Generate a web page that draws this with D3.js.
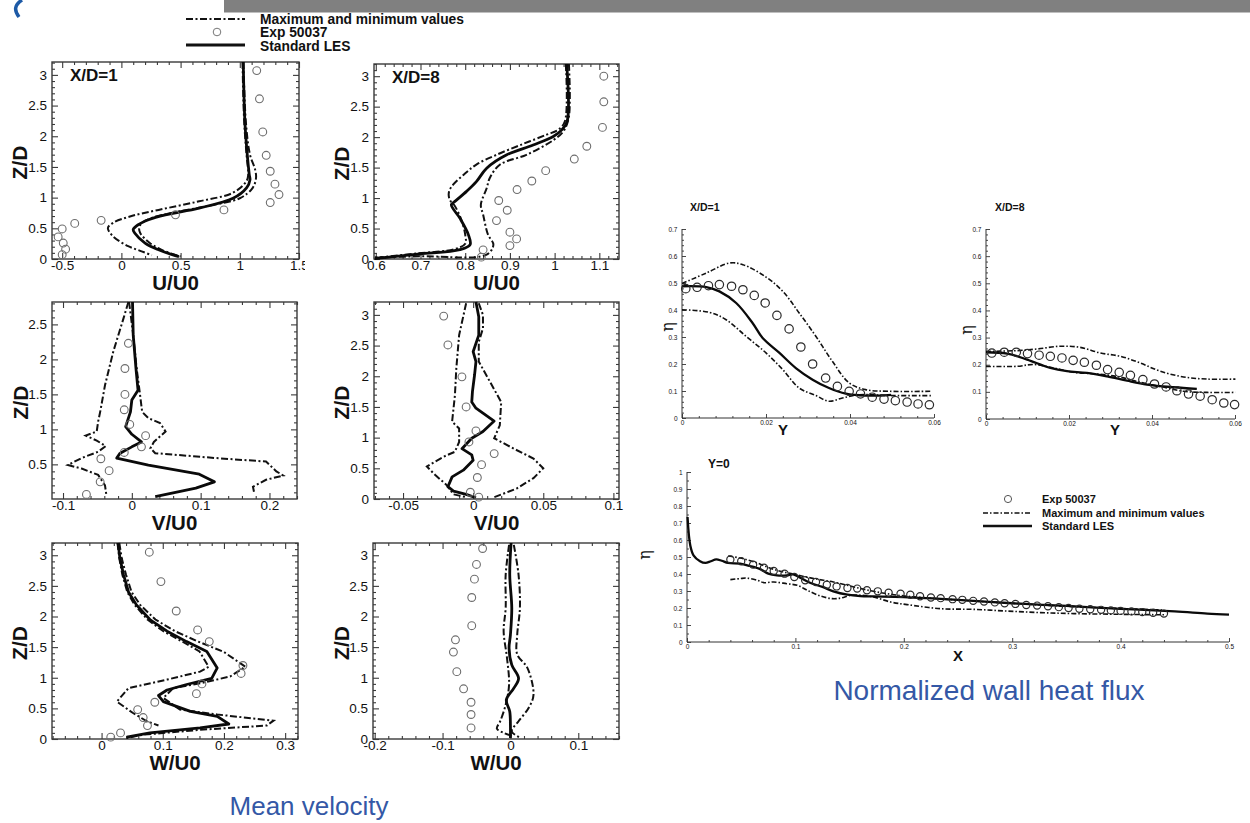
<!DOCTYPE html>
<html>
<head>
<meta charset="utf-8">
<script src="https://cdn.jsdelivr.net/npm/d3@7"></script>
<style>
  body { margin: 0; background: #fff; }
  svg { display: block; }
</style>
</head>
<body>
<svg id="fig" width="1250" height="823"></svg>
<script>
// ---------------- Mean velocity profiles: [value, Z/D] ----------------
const u1Exp = [[1.143,3.07],[1.166,2.61],[1.194,2.07],[1.223,1.69],[1.257,1.43],[1.297,1.22],[1.331,1.05],[1.257,0.92],[0.866,0.80],[0.457,0.72],[-0.171,0.63],[-0.394,0.58],[-0.500,0.49],[-0.534,0.36],[-0.491,0.26],[-0.471,0.16],[-0.500,0.07]];
const u1Les = [[1.029,3.21],[1.043,2.24],[1.063,1.70],[1.080,1.375],[1.086,1.29],[1.057,1.16],[0.943,0.99],[0.657,0.83],[0.371,0.72],[0.229,0.64],[0.143,0.56],[0.100,0.48],[0.114,0.42],[0.200,0.26],[0.314,0.15],[0.429,0.07],[0.486,0.04]];
const u1Max = [[1.031,3.21],[1.051,2.24],[1.086,1.70],[1.129,1.46],[1.137,1.32],[1.109,1.16],[1.000,0.99],[0.714,0.86],[0.429,0.75],[0.257,0.67],[0.170,0.58],[0.150,0.50],[0.160,0.42],[0.240,0.26],[0.340,0.15],[0.450,0.07],[0.500,0.04]];
const u1Min = [[1.023,3.21],[1.037,2.24],[1.057,1.70],[1.071,1.375],[1.057,1.27],[0.943,1.08],[0.657,0.94],[0.314,0.80],[0.086,0.70],[-0.071,0.59],[-0.114,0.505],[-0.071,0.37],[0.057,0.21],[0.171,0.125],[0.257,0.06]];

const u8Exp = [[1.110,3.00],[1.110,2.58],[1.107,2.16],[1.072,1.85],[1.044,1.64],[0.980,1.45],[0.949,1.28],[0.916,1.14],[0.875,0.96],[0.894,0.80],[0.870,0.63],[0.900,0.44],[0.915,0.33],[0.900,0.22],[0.840,0.15],[0.836,0.03]];
const u8Les = [[1.027,3.20],[1.028,2.26],[1.016,2.12],[0.997,2.01],[0.952,1.87],[0.893,1.71],[0.848,1.49],[0.825,1.27],[0.803,1.11],[0.777,0.945],[0.769,0.89],[0.788,0.67],[0.807,0.40],[0.811,0.235],[0.788,0.153],[0.699,0.082],[0.624,0.027],[0.598,0.005]];
const u8Max = [[1.032,3.20],[1.034,2.64],[1.031,2.30],[1.020,2.10],[0.997,1.95],[0.937,1.71],[0.878,1.55],[0.855,1.33],[0.848,1.16],[0.835,0.89],[0.840,0.73],[0.851,0.40],[0.863,0.235],[0.848,0.071],[0.699,0.044],[0.598,0.027]];
const u8Min = [[1.025,3.20],[1.023,2.26],[1.008,2.12],[0.982,2.04],[0.930,1.89],[0.870,1.71],[0.825,1.55],[0.796,1.38],[0.773,1.22],[0.764,1.11],[0.764,1.00],[0.769,0.93],[0.775,0.89],[0.790,0.67],[0.800,0.40],[0.800,0.25],[0.775,0.16],[0.690,0.09],[0.620,0.035],[0.596,0.012]];

const v1Exp = [[-0.005,2.23],[-0.010,1.87],[-0.010,1.50],[-0.011,1.28],[-0.003,1.07],[0.020,0.91],[0.014,0.75],[-0.011,0.67],[-0.045,0.58],[-0.033,0.41],[-0.046,0.25],[-0.066,0.07]];
const v1Les = [[0.001,2.82],[0.002,2.35],[0.006,1.87],[0.009,1.56],[0.000,1.42],[-0.002,1.25],[-0.009,1.04],[0.000,0.93],[0.014,0.82],[0.000,0.75],[-0.017,0.66],[-0.022,0.59],[0.024,0.49],[0.098,0.36],[0.120,0.25],[0.093,0.16],[0.034,0.04]];
const v1Max = [[-0.004,2.82],[0.002,2.35],[0.007,1.87],[0.012,1.49],[0.015,1.25],[0.024,1.16],[0.041,1.09],[0.049,0.97],[0.032,0.82],[0.027,0.73],[0.034,0.66],[0.122,0.59],[0.195,0.54],[0.210,0.40],[0.220,0.34],[0.195,0.28],[0.176,0.18],[0.178,0.085]];
const v1Min = [[-0.005,2.82],[-0.012,2.59],[-0.027,2.11],[-0.039,1.63],[-0.046,1.25],[-0.049,1.11],[-0.051,0.97],[-0.067,0.91],[-0.051,0.84],[-0.038,0.76],[-0.049,0.68],[-0.073,0.59],[-0.093,0.49],[-0.073,0.44],[-0.049,0.35],[-0.039,0.20],[-0.037,0.06]];

const v8Exp = [[-0.021,2.98],[-0.018,2.51],[-0.008,1.99],[-0.005,1.50],[0.002,1.11],[-0.003,0.93],[0.015,0.74],[0.006,0.56],[0.003,0.35],[-0.002,0.11],[0.004,0.03]];
const v8Les = [[0.002,3.21],[0.004,2.97],[0.004,2.67],[0.000,2.40],[0.002,2.24],[0.001,2.02],[-0.0005,1.75],[-0.001,1.58],[0.002,1.48],[0.015,1.27],[0.007,1.10],[-0.001,0.99],[-0.008,0.82],[-0.001,0.72],[0.000,0.63],[-0.007,0.47],[-0.015,0.36],[-0.018,0.20],[-0.014,0.13],[-0.005,0.076],[0.002,0.02]];
const v8Max = [[0.004,3.19],[0.007,3.00],[0.007,2.78],[0.004,2.56],[0.004,2.24],[0.012,1.91],[0.020,1.58],[0.019,1.20],[0.015,0.99],[0.029,0.82],[0.043,0.66],[0.050,0.50],[0.043,0.34],[0.031,0.17],[0.014,0.02]];
const v8Min = [[-0.005,3.19],[-0.010,2.67],[-0.012,2.13],[-0.013,1.69],[-0.015,1.26],[-0.010,1.15],[-0.010,0.93],[-0.013,0.77],[-0.021,0.69],[-0.033,0.53],[-0.027,0.39],[-0.019,0.23],[-0.014,0.076],[-0.005,0.03]];

const w1Exp = [[0.078,3.05],[0.097,2.57],[0.122,2.09],[0.157,1.78],[0.176,1.59],[0.231,1.20],[0.228,1.07],[0.164,0.90],[0.155,0.74],[0.087,0.60],[0.059,0.48],[0.068,0.35],[0.075,0.22],[0.031,0.10],[0.015,0.03]];
const w1Les = [[0.027,3.20],[0.030,2.95],[0.036,2.68],[0.044,2.40],[0.057,2.19],[0.079,1.95],[0.107,1.76],[0.139,1.59],[0.172,1.43],[0.189,1.16],[0.180,0.99],[0.139,0.89],[0.107,0.80],[0.093,0.71],[0.101,0.61],[0.145,0.45],[0.189,0.37],[0.208,0.245],[0.161,0.18],[0.079,0.10],[0.041,0.03]];
const w1Max = [[0.029,3.20],[0.033,2.95],[0.040,2.68],[0.049,2.40],[0.063,2.19],[0.088,1.95],[0.120,1.76],[0.158,1.59],[0.200,1.42],[0.235,1.18],[0.210,1.02],[0.161,0.91],[0.117,0.83],[0.101,0.67],[0.128,0.48],[0.189,0.40],[0.281,0.30],[0.270,0.22],[0.161,0.15],[0.068,0.07],[0.041,0.016]];
const w1Min = [[0.026,3.20],[0.029,2.95],[0.034,2.68],[0.042,2.40],[0.054,2.19],[0.075,1.95],[0.101,1.76],[0.132,1.59],[0.160,1.43],[0.175,1.18],[0.161,1.10],[0.107,0.97],[0.044,0.83],[0.025,0.61],[0.052,0.42],[0.074,0.29],[0.093,0.22]];

const w8Exp = [[-0.041,3.11],[-0.050,2.85],[-0.053,2.61],[-0.057,2.31],[-0.057,1.85],[-0.081,1.62],[-0.084,1.42],[-0.079,1.10],[-0.069,0.82],[-0.058,0.60],[-0.058,0.40],[-0.058,0.18]];
const w8Les = [[0.001,3.20],[-0.001,2.68],[0.002,2.14],[0.000,1.70],[-0.002,1.48],[0.002,1.21],[0.012,0.99],[0.005,0.83],[-0.006,0.64],[-0.001,0.45],[0.000,0.23],[0.000,0.016]];
const w8Max = [[0.005,3.17],[0.012,2.68],[0.014,2.14],[0.010,1.70],[0.010,1.38],[0.025,1.16],[0.034,0.72],[0.027,0.51],[0.012,0.29],[0.002,0.125],[0.015,0.016]];
const w8Min = [[-0.002,3.17],[-0.007,2.68],[-0.007,2.14],[-0.010,1.76],[-0.005,1.32],[-0.002,0.89],[-0.007,0.56],[-0.015,0.29],[-0.020,0.17],[-0.010,0.10],[0.005,0.04]];

// ---------------- Normalized wall heat flux: [coordinate, eta] ----------------
const eta1Exp = [[0.0009,0.479],[0.0036,0.484],[0.0063,0.490],[0.0089,0.494],[0.0118,0.488],[0.0145,0.475],[0.0172,0.454],[0.0198,0.426],[0.0226,0.380],[0.0255,0.330],[0.0283,0.263],[0.0311,0.200],[0.0342,0.148],[0.0370,0.117],[0.0398,0.099],[0.0425,0.089],[0.0453,0.077],[0.0481,0.070],[0.0508,0.064],[0.0536,0.059],[0.0562,0.052],[0.0589,0.049]];
const eta1Les = [[0,0.488],[0.0058,0.485],[0.0089,0.469],[0.0129,0.426],[0.0168,0.352],[0.0192,0.296],[0.0232,0.241],[0.0271,0.185],[0.0311,0.142],[0.0350,0.111],[0.0390,0.090],[0.0437,0.083],[0.0498,0.086]];
const eta1Max = [[0,0.498],[0.0058,0.537],[0.0113,0.574],[0.0145,0.568],[0.0200,0.522],[0.0240,0.469],[0.0279,0.389],[0.0319,0.302],[0.0358,0.210],[0.0398,0.130],[0.0437,0.105],[0.0493,0.099],[0.0595,0.099]];
const eta1Min = [[0,0.401],[0.0066,0.391],[0.0105,0.364],[0.0153,0.302],[0.0200,0.241],[0.0240,0.179],[0.0279,0.111],[0.0319,0.083],[0.0350,0.062],[0.0382,0.074],[0.0421,0.086],[0.0500,0.083],[0.0595,0.083]];

const eta8Exp = [[0.0014,0.243],[0.0044,0.246],[0.0073,0.246],[0.0100,0.241],[0.0128,0.235],[0.0155,0.231],[0.0183,0.225],[0.0210,0.216],[0.0237,0.209],[0.0266,0.198],[0.0293,0.182],[0.0321,0.172],[0.0348,0.161],[0.0378,0.145],[0.0406,0.129],[0.0434,0.118],[0.0460,0.104],[0.0488,0.092],[0.0516,0.084],[0.0545,0.071],[0.0573,0.059],[0.0599,0.053]];
const eta8Les = [[0,0.246],[0.0051,0.241],[0.0099,0.219],[0.0155,0.188],[0.0195,0.176],[0.0243,0.170],[0.0292,0.157],[0.0340,0.141],[0.0388,0.127],[0.0452,0.117],[0.0508,0.111]];
const eta8Max = [[0,0.249],[0.0075,0.252],[0.0123,0.258],[0.0179,0.268],[0.0227,0.264],[0.0276,0.243],[0.0324,0.231],[0.0372,0.206],[0.0420,0.176],[0.0476,0.155],[0.0533,0.147],[0.0601,0.147]];
const eta8Min = [[0,0.194],[0.0075,0.194],[0.0115,0.201],[0.0163,0.188],[0.0211,0.172],[0.0267,0.166],[0.0324,0.154],[0.0372,0.135],[0.0420,0.120],[0.0476,0.102],[0.0533,0.098],[0.0601,0.098]];

const etaXExp = [[0.040,0.486],[0.050,0.475],[0.061,0.455],[0.071,0.437],[0.080,0.418],[0.090,0.402],[0.099,0.382],[0.109,0.363],[0.119,0.353],[0.129,0.337],[0.138,0.327],[0.148,0.318],[0.157,0.314],[0.166,0.304],[0.176,0.298],[0.186,0.290],[0.197,0.284],[0.206,0.278],[0.215,0.269],[0.225,0.262],[0.234,0.258],[0.245,0.252],[0.254,0.248],[0.264,0.242],[0.274,0.238],[0.284,0.233],[0.293,0.228],[0.303,0.224],[0.313,0.218],[0.323,0.214],[0.333,0.210],[0.343,0.205],[0.352,0.200],[0.362,0.196],[0.372,0.193],[0.382,0.189],[0.391,0.186],[0.400,0.183],[0.410,0.180],[0.420,0.176],[0.430,0.172],[0.440,0.167]];
const etaXLes = [[0.0005,0.735],[0.003,0.569],[0.006,0.510],[0.012,0.475],[0.017,0.465],[0.022,0.475],[0.027,0.486],[0.032,0.478],[0.038,0.465],[0.049,0.461],[0.058,0.447],[0.068,0.427],[0.075,0.402],[0.083,0.392],[0.092,0.392],[0.098,0.398],[0.105,0.376],[0.114,0.347],[0.125,0.324],[0.135,0.298],[0.148,0.278],[0.160,0.270],[0.172,0.268],[0.200,0.264],[0.250,0.248],[0.300,0.228],[0.350,0.212],[0.400,0.195],[0.450,0.180],[0.480,0.167],[0.500,0.161]];
const etaXMax = [[0.038,0.506],[0.049,0.494],[0.062,0.471],[0.074,0.441],[0.086,0.416],[0.098,0.400],[0.117,0.373],[0.135,0.353],[0.154,0.324],[0.172,0.298],[0.191,0.278],[0.218,0.261],[0.265,0.241],[0.326,0.218],[0.388,0.200],[0.440,0.188]];
const etaXMin = [[0.040,0.367],[0.049,0.373],[0.055,0.376],[0.065,0.363],[0.071,0.349],[0.080,0.353],[0.092,0.343],[0.102,0.333],[0.111,0.304],[0.123,0.271],[0.134,0.255],[0.142,0.259],[0.151,0.275],[0.160,0.275],[0.172,0.265],[0.188,0.235],[0.203,0.220],[0.234,0.196],[0.265,0.192],[0.295,0.182],[0.326,0.173],[0.357,0.167],[0.400,0.163],[0.440,0.160]];

// ---------------- Tick values ----------------
const u1Ticks = [-0.5, 0, 0.5, 1, 1.5];
const u8Ticks = [0.6, 0.7, 0.8, 0.9, 1, 1.1];
const v1Ticks = [-0.1, 0, 0.1, 0.2];
const v8Ticks = [-0.05, 0, 0.05, 0.1];
const w1Ticks = [0, 0.1, 0.2, 0.3];
const w8Ticks = [-0.2, -0.1, 0, 0.1];
const zTicks = [0, 0.5, 1, 1.5, 2, 2.5, 3];
const zTicksV1 = [0.5, 1, 1.5, 2, 2.5];
const spanTicks = [0, 0.02, 0.04, 0.06];
const etaTicks7 = [0, 0.1, 0.2, 0.3, 0.4, 0.5, 0.6, 0.7];
const streamTicks = [0, 0.1, 0.2, 0.3, 0.4, 0.5];
const etaTicks10 = [0, 0.1, 0.2, 0.3, 0.4, 0.5, 0.6, 0.7, 0.8, 0.9, 1];

// ---------------- Legend text ----------------
const legendLabels = ["Maximum and minimum values", "Exp 50037", "Standard LES"];

const svg = d3.select("#fig");
const FONT = "'Liberation Sans', Arial, Helvetica, sans-serif";
const fmt = d => String(Math.round(d * 1e6) / 1e6);
const minorTicks = (dom, step, majors) => {
  const lo = Math.ceil(Math.min(...dom) / step - 1e-6), hi = Math.floor(Math.max(...dom) / step + 1e-6);
  return d3.range(lo, hi + 1).map(i => +(i * step).toFixed(6))
    .filter(v => !majors.some(m => Math.abs(m - v) < step * 1e-3));
};

// Header bar and corner mark
svg.append("rect").attr("x", 224).attr("y", 0).attr("width", 1026).attr("height", 12.5).attr("fill", "#808080");
svg.append("path").attr("d", "M22,0 Q11,7 19,17").attr("fill", "none").attr("stroke", "#1d5aa6").attr("stroke-width", 3.5);

// Dash-dot pattern used for the envelopes
const DASH_L = "7,2.5,2,2.5";
const DASH_R = "5,2,1.5,2";

function styleAxis(a, color, tw, fs) {
  a.attr("font-family", FONT).attr("font-size", fs);
  a.select(".domain").remove();
  a.selectAll("line").attr("stroke", color).attr("stroke-width", tw);
  a.selectAll("text").attr("fill", "#111");
}

// ---------------- Velocity profile panels (boxed, ticks on all sides) ----------------
function profilePanel(p) {
  const [bx0, by0, bx1, by1] = p.box;
  const g = svg.append("g");
  if (p.clipX) {
    const id = "clip" + Math.round(bx0) + "_" + Math.round(by0);
    svg.append("clipPath").attr("id", id).append("rect")
      .attr("x", 0).attr("y", by0 - 60).attr("width", p.clipX).attr("height", 300);
    g.attr("clip-path", `url(#${id})`);
  }
  const x = d3.scaleLinear().domain(p.xd).range([bx0, bx1]);
  const y = d3.scaleLinear().domain(p.yd).range([by1, by0]);
  const xMin = minorTicks(p.xd, p.xStep, p.xt);
  const yMin = minorTicks(p.yd, p.yStep, p.yt);
  const C = "#3a3a3a", MAJ = 6, MIN = 3;

  const axes = [
    [d3.axisBottom(x).tickValues(p.xt).tickSize(-MAJ).tickPadding(1.5).tickFormat(fmt), 0, by1],
    [d3.axisBottom(x).tickValues(xMin).tickSize(-MIN).tickFormat(""), 0, by1],
    [d3.axisTop(x).tickValues(p.xt).tickSize(-MAJ).tickFormat(""), 0, by0],
    [d3.axisTop(x).tickValues(xMin).tickSize(-MIN).tickFormat(""), 0, by0],
    [d3.axisLeft(y).tickValues(p.yt).tickSize(-MAJ).tickPadding(5).tickFormat(fmt), bx0, 0],
    [d3.axisLeft(y).tickValues(yMin).tickSize(-MIN).tickFormat(""), bx0, 0],
    [d3.axisRight(y).tickValues(p.yt).tickSize(-MAJ).tickFormat(""), bx1, 0],
    [d3.axisRight(y).tickValues(yMin).tickSize(-MIN).tickFormat(""), bx1, 0]
  ];
  axes.forEach(([ax, tx, ty]) => {
    const a = g.append("g").attr("transform", `translate(${tx},${ty})`).call(ax);
    styleAxis(a, C, 1.1, 13.5);
  });
  g.append("rect").attr("x", bx0).attr("y", by0).attr("width", bx1 - bx0).attr("height", by1 - by0)
    .attr("fill", "none").attr("stroke", C).attr("stroke-width", 1.4);

  const plot = g.append("g");
  const line = d3.line().x(d => x(d[0])).y(d => y(d[1])).curve(p.curve || d3.curveLinear);
  [p.mx, p.mn].forEach(s => plot.append("path").attr("d", line(s)).attr("fill", "none")
    .attr("stroke", "#111").attr("stroke-width", 2).attr("stroke-dasharray", DASH_L));
  plot.append("path").attr("d", line(p.les)).attr("fill", "none").attr("stroke", "#0a0a0a")
    .attr("stroke-width", 2.8).attr("stroke-linejoin", "round");
  plot.selectAll("circle.exp").data(p.exp).join("circle").attr("class", "exp")
    .attr("cx", d => x(d[0])).attr("cy", d => y(d[1])).attr("r", 3.9)
    .attr("fill", "none").attr("stroke", "#6e6e6e").attr("stroke-width", 1.1);

  if (p.title) g.append("text").attr("x", bx0 + 18).attr("y", by0 + 19).attr("font-family", FONT)
    .attr("font-weight", "bold").attr("font-size", 17).attr("fill", "#111").text(p.title);
  g.append("text").attr("x", (bx0 + bx1) / 2).attr("y", by1 + 31).attr("text-anchor", "middle")
    .attr("font-family", FONT).attr("font-weight", "bold").attr("font-size", 20.5).attr("fill", "#111").text(p.xLabel);
  const ly = (by0 + by1) / 2 + 2;
  g.append("text").attr("transform", `translate(${p.zx},${ly}) rotate(-90)`).attr("text-anchor", "middle")
    .attr("dy", "0.36em").attr("font-family", FONT).attr("font-weight", "bold").attr("font-size", 21)
    .attr("fill", "#111").text("Z/D");
}

const smooth = d3.curveCatmullRom.alpha(0.5);
profilePanel({ box: [52, 62, 299, 259], xd: [-0.586, 1.5], yd: [0, 3.21], xt: u1Ticks, xStep: 0.1, yt: zTicks, yStep: 0.1,
  title: "X/D=1", xLabel: "U/U0", zx: 19, exp: u1Exp, les: u1Les, mx: u1Max, mn: u1Min, clipX: 305, curve: smooth });
profilePanel({ box: [374, 64, 619, 259], xd: [0.596, 1.144], yd: [0, 3.2], xt: u8Ticks, xStep: 0.02, yt: zTicks, yStep: 0.1,
  title: "X/D=8", xLabel: "U/U0", zx: 341, exp: u8Exp, les: u8Les, mx: u8Max, mn: u8Min, curve: smooth });
profilePanel({ box: [52, 302, 297, 499], xd: [-0.116, 0.24], yd: [0.005, 2.82], xt: v1Ticks, xStep: 0.02, yt: zTicksV1, yStep: 0.1,
  xLabel: "V/U0", zx: 20, exp: v1Exp, les: v1Les, mx: v1Max, mn: v1Min });
profilePanel({ box: [374, 302, 619, 499], xd: [-0.0707, 0.104], yd: [0, 3.21], xt: v8Ticks, xStep: 0.01, yt: zTicks, yStep: 0.1,
  xLabel: "V/U0", zx: 341, exp: v8Exp, les: v8Les, mx: v8Max, mn: v8Min });
profilePanel({ box: [52, 543, 298, 739], xd: [-0.081, 0.321], yd: [0, 3.2], xt: w1Ticks, xStep: 0.02, yt: zTicks, yStep: 0.1,
  xLabel: "W/U0", zx: 19, exp: w1Exp, les: w1Les, mx: w1Max, mn: w1Min });
profilePanel({ box: [373, 543, 619, 739], xd: [-0.2025, 0.16], yd: [0, 3.2], xt: w8Ticks, xStep: 0.02, yt: zTicks, yStep: 0.1,
  xLabel: "W/U0", zx: 341, exp: w8Exp, les: w8Les, mx: w8Max, mn: w8Min, curve: smooth });

// ---------------- Heat flux panels (open axes) ----------------
function fluxPanel(p) {
  const g = svg.append("g");
  const x = d3.scaleLinear().domain(p.xd).range(p.xr);
  const y = d3.scaleLinear().domain(p.yd).range(p.yr);
  const C = "#333";
  const xMin = minorTicks(p.xd, p.xStep, p.xt);
  const yMin = minorTicks(p.yd, p.yStep, p.yt);
  const axes = [
    [d3.axisBottom(x).tickValues(p.xt).tickSize(-4).tickPadding(2.5).tickFormat(fmt), 0, p.yr[0]],
    [d3.axisBottom(x).tickValues(xMin).tickSize(-2).tickFormat(""), 0, p.yr[0]],
    [d3.axisLeft(y).tickValues(p.yt).tickSize(-4).tickPadding(4.5).tickFormat(fmt), p.xr[0], 0],
    [d3.axisLeft(y).tickValues(yMin).tickSize(-2).tickFormat(""), p.xr[0], 0]
  ];
  axes.forEach(([ax, tx, ty]) => {
    const a = g.append("g").attr("transform", `translate(${tx},${ty})`).call(ax);
    styleAxis(a, C, 0.9, 6.5);
  });
  g.append("line").attr("x1", p.xr[0]).attr("x2", p.xr[1]).attr("y1", p.yr[0]).attr("y2", p.yr[0])
    .attr("stroke", C).attr("stroke-width", 1);
  g.append("line").attr("x1", p.xr[0]).attr("x2", p.xr[0]).attr("y1", p.yr[0]).attr("y2", p.yr[1])
    .attr("stroke", C).attr("stroke-width", 1);

  const line = d3.line().x(d => x(d[0])).y(d => y(d[1])).curve(smooth);
  [p.mx, p.mn].forEach(s => g.append("path").attr("d", line(s)).attr("fill", "none")
    .attr("stroke", "#111").attr("stroke-width", 1.6).attr("stroke-dasharray", DASH_R));
  g.append("path").attr("d", line(p.les)).attr("fill", "none").attr("stroke", "#0a0a0a").attr("stroke-width", 2.3);
  g.selectAll("circle.exp").data(p.exp).join("circle").attr("class", "exp")
    .attr("cx", d => x(d[0])).attr("cy", d => y(d[1])).attr("r", p.r)
    .attr("fill", "none").attr("stroke", "#2a2a2a").attr("stroke-width", 1.2);

  g.append("text").attr("x", p.title[1]).attr("y", p.title[2]).attr("font-family", FONT).attr("font-weight", "bold")
    .attr("font-size", p.title[3]).attr("fill", "#111").text(p.title[0]);
  g.append("text").attr("x", p.xlab[1]).attr("y", p.xlab[2]).attr("text-anchor", "middle").attr("font-family", FONT)
    .attr("font-weight", "bold").attr("font-size", 15).attr("fill", "#111").text(p.xlab[0]);
  g.append("text").attr("transform", `translate(${p.eta[0]},${p.eta[1]}) rotate(-90)`).attr("text-anchor", "middle")
    .attr("dy", "0.3em").attr("font-family", "'DejaVu Serif', 'Liberation Serif', serif").attr("font-size", 16)
    .attr("fill", "#111").text("η");
  return { x, y, g };
}

fluxPanel({ xd: [0, 0.06], xr: [682, 934], yd: [0, 0.7], yr: [418, 229], xt: spanTicks, xStep: 0.004, yt: etaTicks7, yStep: 0.02,
  exp: eta1Exp, les: eta1Les, mx: eta1Max, mn: eta1Min, r: 4.2,
  title: ["X/D=1", 690, 210.5, 10.5], xlab: ["Y", 783, 435], eta: [668, 327] });
fluxPanel({ xd: [0, 0.06], xr: [986, 1235], yd: [0, 0.7], yr: [419, 229], xt: spanTicks, xStep: 0.004, yt: etaTicks7, yStep: 0.02,
  exp: eta8Exp, les: eta8Les, mx: eta8Max, mn: eta8Min, r: 4.2,
  title: ["X/D=8", 995, 210.5, 10.5], xlab: ["Y", 1115, 435], eta: [967, 330] });
const p9 = fluxPanel({ xd: [0, 0.5], xr: [687, 1229], yd: [0, 1], yr: [642, 472], xt: streamTicks, xStep: 0.02, yt: etaTicks10, yStep: 0.05,
  exp: etaXExp, les: etaXLes, mx: etaXMax, mn: etaXMin, r: 3.6,
  title: ["Y=0", 708, 467.5, 12], xlab: ["X", 958, 661], eta: [645, 555] });

// Legend inside the streamwise panel
const lg9 = p9.g.append("g").attr("font-family", FONT).attr("font-weight", "bold").attr("font-size", 11).attr("fill", "#111");
lg9.append("circle").attr("cx", 1008).attr("cy", 499).attr("r", 3.6).attr("fill", "none").attr("stroke", "#555").attr("stroke-width", 1);
lg9.append("text").attr("x", 1042).attr("y", 503).text(legendLabels[1]);
lg9.append("line").attr("x1", 983).attr("x2", 1032).attr("y1", 513).attr("y2", 513).attr("stroke", "#111")
  .attr("stroke-width", 1.6).attr("stroke-dasharray", DASH_R);
lg9.append("text").attr("x", 1042).attr("y", 517).text(legendLabels[0]);
lg9.append("line").attr("x1", 983).attr("x2", 1032).attr("y1", 526).attr("y2", 526).attr("stroke", "#111").attr("stroke-width", 2.4);
lg9.append("text").attr("x", 1042).attr("y", 530).text(legendLabels[2]);

// Shared legend above the velocity panels
const lg = svg.append("g").attr("font-family", FONT).attr("font-weight", "bold").attr("font-size", 13.8).attr("fill", "#111");
lg.append("line").attr("x1", 186).attr("x2", 245).attr("y1", 19).attr("y2", 19).attr("stroke", "#111")
  .attr("stroke-width", 2).attr("stroke-dasharray", DASH_L);
lg.append("text").attr("x", 260).attr("y", 23.5).text(legendLabels[0]);
lg.append("circle").attr("cx", 217).attr("cy", 32).attr("r", 3.8).attr("fill", "none").attr("stroke", "#777").attr("stroke-width", 1);
lg.append("text").attr("x", 260).attr("y", 37).text(legendLabels[1]);
lg.append("line").attr("x1", 186).attr("x2", 245).attr("y1", 45).attr("y2", 45).attr("stroke", "#111").attr("stroke-width", 3);
lg.append("text").attr("x", 260).attr("y", 50.5).text(legendLabels[2]);

// Captions
svg.append("text").attr("x", 309).attr("y", 815).attr("text-anchor", "middle").attr("font-family", FONT)
  .attr("font-size", 26).attr("fill", "#3458a6").text("Mean velocity");
svg.append("text").attr("x", 989).attr("y", 700).attr("text-anchor", "middle").attr("font-family", FONT)
  .attr("font-size", 28).attr("fill", "#3458a6").text("Normalized wall heat flux");
</script>
</body>
</html>
